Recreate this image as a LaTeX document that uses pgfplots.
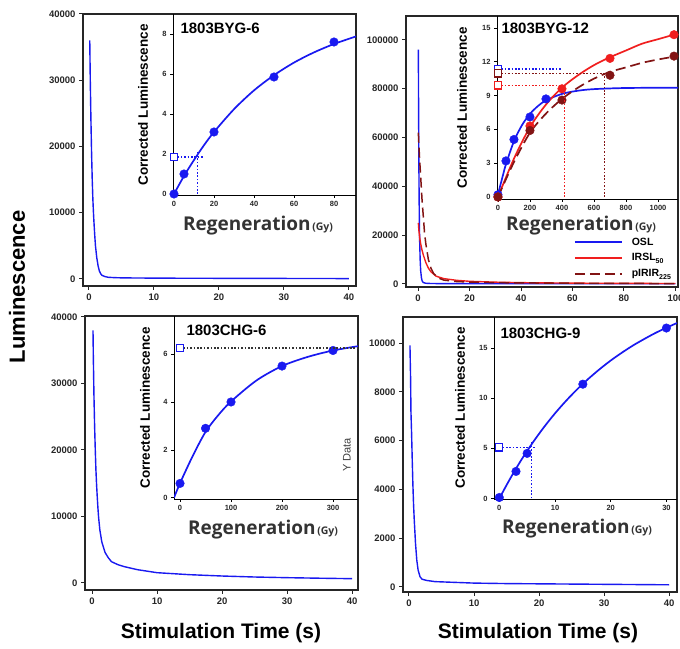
\documentclass[border=0pt]{standalone}
\usepackage{fontspec}
\setmainfont{Liberation Sans}
\newfontfamily\regfont{Open Sans}
\usepackage{pgfplots}
\pgfplotsset{compat=1.18}

\definecolor{oslblue}{RGB}{25,25,240}
\definecolor{irred}{RGB}{240,30,30}
\definecolor{pirred}{RGB}{130,20,20}

\pgfplotsset{
  mainax/.style={scale only axis, anchor=south west,
    axis line style={line width=1.2pt, black!85},
    tick align=outside, tick pos=left, major tick length=4pt,
    tick style={line width=1pt, black!85},
    /pgf/number format/assume math mode=true, /pgf/number format/fixed,
    /pgf/number format/1000 sep={}, scaled ticks=false,
    ticklabel style={font=\bfseries\fontsize{9.5}{10}\selectfont, text=black!85},
    clip mode=individual},
  inax/.style={scale only axis, anchor=south west,
    axis x line*=bottom, axis y line*=left,
    axis line style={line width=0.8pt, black, -},
    tick align=outside, major tick length=3pt,
    tick style={line width=0.7pt, black},
    /pgf/number format/assume math mode=true, /pgf/number format/fixed,
    /pgf/number format/1000 sep={}, scaled ticks=false,
    ticklabel style={font=\bfseries\fontsize{7.5}{8}\selectfont, text=black!85},
    clip mode=individual},
  osl/.style={color=oslblue, line width=1.4pt},
  irsl/.style={color=irred, line width=1.4pt},
  pir/.style={color=pirred, line width=1.5pt, dash pattern=on 10pt off 5pt},
  fit/.style={line width=1.7pt},
  dot/.style={mark=*, mark size=4.3pt, only marks},
  opensq/.style={color=#1, only marks, mark=square*, mark size=3.6pt,
    mark options={fill=white, draw=#1, line width=1.2pt}},
  dotl/.style={color=#1, line width=1.6pt, dash pattern=on 1.6pt off 1.8pt},
}

\newcommand{\corr}{\bfseries\fontsize{13.5}{14}\selectfont Corrected Luminescence}
\newcommand{\regen}{{\regfont\bfseries\fontsize{19}{19}\selectfont Regeneration}\,{\regfont\bfseries\fontsize{10.5}{11}\selectfont(Gy)}}
\newcommand{\sub}[1]{\raisebox{-0.45ex}{\fontsize{7}{7}\selectfont #1}}

\begin{document}
\begin{tikzpicture}
\useasboundingbox (0,0) rectangle (680pt,648pt);

% ---------- panel 1: 1803BYG-6
\begin{axis}[mainax, at={(83pt,362pt)}, width=273pt, height=272pt,
  xmin=-0.92, xmax=41.1, ymin=-1060, ymax=40000,
  xtick={0,10,20,30,40}, ytick={0,10000,20000,30000,40000}]
\addplot[osl] coordinates {(0.12,36000) (0.2,30000) (0.3,24000) (0.4,19000) (0.5,15000)
  (0.6,12000) (0.7,9800) (0.8,8000) (0.9,6400) (1.0,5000) (1.2,3200) (1.4,2000)
  (1.6,1200) (1.8,800) (2.0,550) (2.5,350) (3,250) (4,200) (5,170) (7,150) (10,130)
  (15,110) (20,100) (25,90) (30,80) (35,70) (40,60)};
\end{axis}
\begin{axis}[inax, at={(173pt,453pt)}, width=183pt, height=181pt,
  xmin=-0.5, xmax=91, ymin=-0.05, ymax=9.0,
  xtick={0,20,40,60,80}, ytick={0,2,4,6,8}]
\addplot[osl, fit, smooth] coordinates {(0,0) (5,0.9) (10,1.70) (15,2.44) (20,3.10) (30,4.24)
  (40,5.18) (50,5.94) (60,6.57) (70,7.08) (80,7.50) (91,7.88)};
\addplot[oslblue, dot] coordinates {(0,0) (5,1.0) (20,3.1) (50,5.85) (80,7.6)};
\addplot[dotl=oslblue] coordinates {(0,1.85) (14.5,1.85)};
\addplot[dotl=oslblue] coordinates {(11.8,0) (11.8,2.2)};
\addplot[opensq=oslblue] coordinates {(0,1.85)};
\end{axis}

% ---------- panel 2: 1803BYG-12
\begin{axis}[mainax, at={(406pt,361pt)}, width=272pt, height=271pt,
  xmin=-4.7, xmax=101, ymin=-1230, ymax=109800,
  xtick={0,20,40,60,80,100}, ytick={0,20000,40000,60000,80000,100000},
  legend style={draw=none, fill=none, at={(0.617,0.19)}, anchor=north west,
    font=\bfseries\fontsize{10.5}{11}\selectfont, inner sep=0pt, row sep=3pt,
    /tikz/every odd column/.append style={column sep=7pt}},
  legend cell align=left,
  legend image code/.code={\draw[#1, line width=1.8pt] (0pt,0pt) -- (47pt,0pt);}]
\addplot[osl] coordinates {(0.1,96000) (0.2,70000) (0.3,50000) (0.4,35000) (0.5,25000)
  (0.6,18000) (0.8,10000) (1.0,5500) (1.3,2500) (1.6,1200) (2,600) (3,300) (5,200)
  (10,150) (20,130) (40,110) (60,100) (80,100) (100,100)};
\addlegendentry{OSL}
\addplot[irsl] coordinates {(0.1,25000) (0.3,22000) (0.6,19000) (1,16500) (1.5,14000)
  (2,12000) (3,8800) (4,6500) (5,5000) (7,3200) (10,2200) (15,1500) (20,1100)
  (30,750) (40,550) (60,350) (80,250) (100,200)};
\addlegendentry{IRSL\sub{50}}
\addplot[pir] coordinates {(0.1,62000) (0.3,57000) (0.65,50000) (1,44000) (1.5,35000)
  (2,28000) (2.5,21000) (3,16500) (4,10000) (5,6500) (6,4300) (8,2400) (10,1600)
  (15,1000) (20,800) (30,550) (40,450) (60,300) (80,220) (100,180)};
\addlegendentry{pIRIR\sub{225}}
\end{axis}
\begin{axis}[inax, at={(497pt,449pt)}, width=181pt, height=183pt,
  xmin=-6, xmax=1125, ymin=-0.18, ymax=16.06,
  xtick={0,200,400,600,800,1000}, ytick={0,3,6,9,12,15}]
\addplot[osl, fit, smooth] coordinates {(-4,0) (25,1.59) (50,2.91) (100,4.95) (150,6.37)
  (200,7.37) (250,8.07) (300,8.57) (400,9.15) (500,9.43) (600,9.57) (800,9.67) (1125,9.7)};
\addplot[irsl, fit, smooth] coordinates {(0,0) (100,3.4) (200,6.2) (300,8.2) (400,9.7)
  (500,10.8) (600,11.7) (700,12.4) (800,13.0) (900,13.6) (1000,14.0) (1100,14.4) (1125,14.45)};
\addplot[pir, fit, smooth] coordinates {(0,0) (100,3.1) (200,5.7) (300,7.4) (400,8.7)
  (500,9.7) (600,10.5) (700,11.1) (800,11.5) (900,11.9) (1000,12.2) (1100,12.45) (1125,12.5)};
\addplot[oslblue, dot] coordinates {(0,0.2) (50,3.2) (100,5.1) (200,7.1) (300,8.7)};
\addplot[irred, dot] coordinates {(0,0) (200,6.3) (400,9.6) (700,12.3) (1100,14.4)};
\addplot[pirred, dot] coordinates {(0,0) (200,5.9) (400,8.6) (700,10.8) (1100,12.5)};
\addplot[dotl=oslblue] coordinates {(0,11.33) (398,11.33)};
\addplot[dotl=pirred] coordinates {(0,10.97) (666,10.97)};
\addplot[dotl=pirred] coordinates {(666,0) (666,10.97)};
\addplot[dotl=irred] coordinates {(0,9.9) (415,9.9)};
\addplot[dotl=irred] coordinates {(415,0) (415,9.9)};
\addplot[opensq=oslblue] coordinates {(0,11.33)};
\addplot[opensq=pirred] coordinates {(0,10.97)};
\addplot[opensq=irred] coordinates {(0,9.9)};
\end{axis}

% ---------- panel 3: 1803CHG-6
\begin{axis}[mainax, at={(85pt,58pt)}, width=273pt, height=274pt,
  xmin=-1.08, xmax=40.9, ymin=-1053, ymax=40150,
  xtick={0,10,20,30,40}, ytick={0,10000,20000,30000,40000}]
\addplot[osl] coordinates {(0.15,38000) (0.2,34000) (0.3,28000) (0.4,23500) (0.5,20000)
  (0.6,17000) (0.7,14800) (0.8,13000) (0.9,11400) (1.0,10000) (1.2,8000) (1.5,6200)
  (2,4600) (2.5,3800) (3,3200) (4,2750) (5,2450) (7,2000) (10,1550) (15,1250)
  (20,1050) (25,900) (30,800) (35,720) (40,650)};
\end{axis}
\begin{axis}[inax, at={(174pt,149pt)}, width=184pt, height=183pt,
  xmin=-11.8, xmax=349, ymin=-0.05, ymax=7.59,
  xtick={0,100,200,300}, ytick={0,2,4,6}]
\addplot[osl, fit, smooth] coordinates {(-11.8,0) (0,0.61) (25,1.75) (50,2.75) (75,3.45)
  (100,4.02) (150,4.9) (200,5.5) (250,5.88) (300,6.15) (349,6.33)};
\addplot[oslblue, dot] coordinates {(0,0.6) (50,2.9) (100,4.0) (200,5.5) (300,6.15)};
\addplot[dotl=black!80] coordinates {(0,6.25) (349,6.25)};
\addplot[opensq=oslblue] coordinates {(0,6.25)};
\end{axis}

% ---------- panel 4: 1803CHG-9
\begin{axis}[mainax, at={(403pt,56pt)}, width=274pt, height=275pt,
  xmin=-0.92, xmax=41.2, ymin=-205, ymax=11066,
  xtick={0,10,20,30,40}, ytick={0,2000,4000,6000,8000,10000}]
\addplot[osl] coordinates {(0.15,9900) (0.25,8500) (0.3,7200) (0.4,6300) (0.5,5200)
  (0.6,4200) (0.7,3400) (0.8,2800) (0.9,2300) (1.0,1800) (1.2,1100) (1.4,700)
  (1.7,420) (2,320) (2.7,270) (4,220) (6,200) (10,160) (15,140) (20,130) (25,120)
  (30,110) (35,100) (40,90)};
\end{axis}
\begin{axis}[inax, at={(494pt,149pt)}, width=183pt, height=182pt,
  xmin=-0.95, xmax=31.9, ymin=-0.05, ymax=18.1,
  xtick={0,10,20,30}, ytick={0,5,10,15}]
\addplot[osl, fit, smooth] coordinates {(0,0) (2,2.03) (4,3.89) (6,5.57) (8,7.10) (10,8.49)
  (12,9.75) (14,10.9) (16,11.94) (18,12.89) (20,13.76) (22,14.54) (24,15.26)
  (26,15.9) (28,16.5) (30,17.03) (31.9,17.5)};
\addplot[oslblue, dot] coordinates {(0,0.1) (3,2.7) (5,4.5) (15,11.4) (30,17.0)};
\addplot[dotl=oslblue] coordinates {(0,5.1) (6.7,5.1)};
\addplot[dotl=oslblue] coordinates {(5.8,0) (5.8,5.7)};
\addplot[opensq=oslblue] coordinates {(0,5.1)};
\end{axis}

% ---------- texts
\node[rotate=90, font=\bfseries\fontsize{22}{22}\selectfont] at (17pt,361pt) {Luminescence};
\node[font=\bfseries\fontsize{21}{21}\selectfont] at (221pt,15pt) {Stimulation Time (s)};
\node[font=\bfseries\fontsize{21}{21}\selectfont] at (538pt,15pt) {Stimulation Time (s)};

\node[anchor=west, font=\bfseries\fontsize{15}{15}\selectfont] at (177pt,620pt) {1803BYG-6};
\node[anchor=west, font=\bfseries\fontsize{15}{15}\selectfont] at (498pt,620pt) {1803BYG-12};
\node[anchor=west, font=\bfseries\fontsize{15}{15}\selectfont] at (183pt,318pt) {1803CHG-6};
\node[anchor=west, font=\bfseries\fontsize{15}{15}\selectfont] at (497pt,315pt) {1803CHG-9};

\node[rotate=90] at (143pt,543pt) {\corr};
\node[rotate=90] at (462pt,540pt) {\corr};
\node[rotate=90] at (145pt,240pt) {\corr};
\node[rotate=90] at (460pt,240pt) {\corr};

\node[anchor=base west, text=black!80, inner sep=0pt] at (183pt,417pt) {\regen};
\node[anchor=base west, text=black!80, inner sep=0pt] at (506pt,417pt) {\regen};
\node[anchor=base west, text=black!80, inner sep=0pt] at (188pt,113pt) {\regen};
\node[anchor=base west, text=black!80, inner sep=0pt] at (502pt,114pt) {\regen};

\node[rotate=90, text=black!75, font=\fontsize{11}{11}\selectfont] at (347pt,193pt) {Y Data};
\end{tikzpicture}
\end{document}
